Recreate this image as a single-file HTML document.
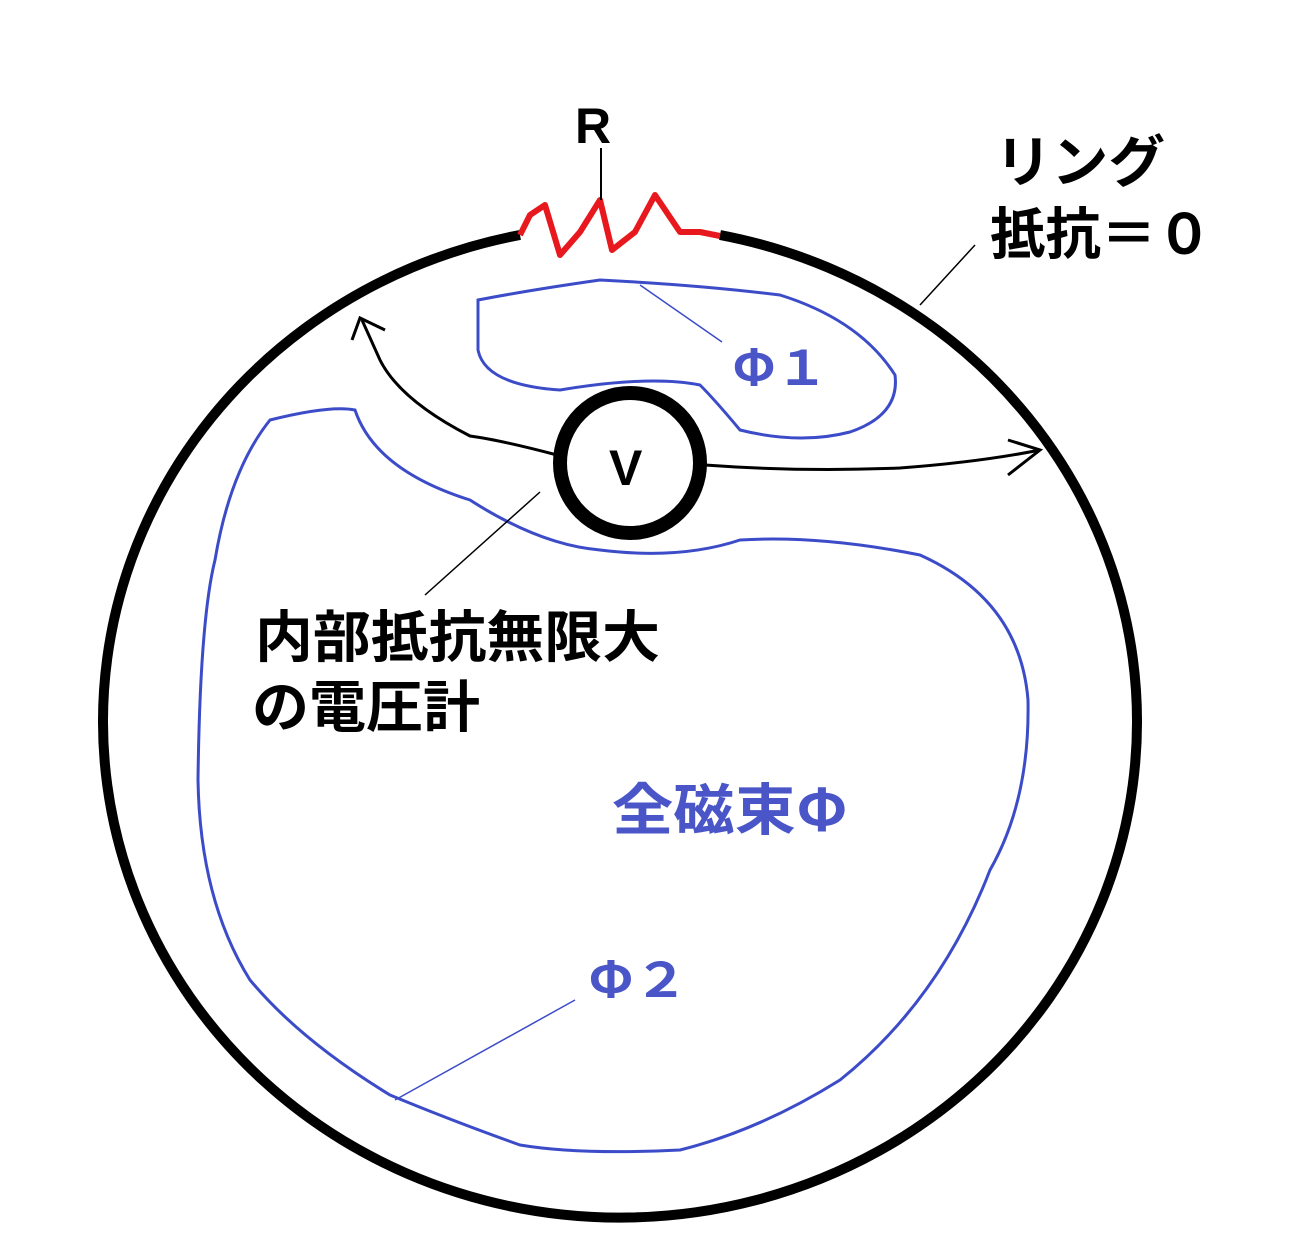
<!DOCTYPE html>
<html><head><meta charset="utf-8"><style>
html,body{margin:0;padding:0;background:#fff;}
svg{display:block;}
text{font-family:"Liberation Sans","Noto Sans CJK JP",sans-serif;font-weight:bold;}
.j{font-family:"Noto Sans CJK JP",sans-serif;}
</style></head><body>
<svg width="1300" height="1253" viewBox="0 0 1300 1253" xmlns="http://www.w3.org/2000/svg">
<rect width="1300" height="1253" fill="#fff"/>
<path d="M720,235 A517,496 0 1 1 520,235" fill="none" stroke="#000" stroke-width="10"/>
<path d="M520,235 L530,215 L545,205 L560,255 L580,232 L600,200 L612,250 L635,232 L655,195 L680,232 L700,232 L720,236" fill="none" stroke="#e8191e" stroke-width="6" stroke-linejoin="round"/>
<text x="575" y="143" font-size="50">R</text>
<line x1="601" y1="148" x2="601" y2="200" stroke="#000" stroke-width="2"/>
<text class="j" x="995" y="182" font-size="56" textLength="170" lengthAdjust="spacingAndGlyphs">リング</text>
<text class="j" x="990" y="254" font-size="56" textLength="222" lengthAdjust="spacingAndGlyphs">抵抗＝０</text>
<line x1="975" y1="245" x2="920" y2="305" stroke="#000" stroke-width="1.5"/>
<path d="M478,300 Q530,290 600,280 Q700,285 780,295 Q860,320 895,375 Q900,415 850,432 Q800,445 740,430 Q715,400 700,385 Q650,375 560,390 Q485,385 478,350 Z" fill="none" stroke="#3c4cc8" stroke-width="3"/>
<line x1="640" y1="285" x2="722" y2="342" stroke="#3c4cc8" stroke-width="1.5"/>
<text class="j" x="732" y="385" font-size="48" fill="#4a56c8" textLength="96" lengthAdjust="spacingAndGlyphs">Φ１</text>
<path d="M355,410 Q375,470 470,500 Q540,545 600,550 Q680,560 740,540 Q820,535 920,555 Q1020,600 1028,700 Q1030,800 990,870 Q940,1000 840,1080 Q760,1130 680,1150 Q580,1155 520,1145 Q450,1120 390,1095 Q300,1040 250,980 Q200,900 198,780 Q200,620 215,560 Q230,470 270,420 Q330,405 355,410 Z" fill="none" stroke="#3c4cc8" stroke-width="3"/>
<text class="j" x="612" y="830" font-size="56" fill="#4a56c8" textLength="236" lengthAdjust="spacingAndGlyphs">全磁束Φ</text>
<text class="j" x="588" y="997" font-size="48" fill="#4a56c8" textLength="100" lengthAdjust="spacingAndGlyphs">Φ２</text>
<line x1="575" y1="1000" x2="395" y2="1100" stroke="#3c4cc8" stroke-width="1.5"/>
<path d="M557,455 Q500,440 470,436 Q400,400 380,360 L362,320" fill="none" stroke="#000" stroke-width="3"/>
<path d="M352,340 L360,318 L385,330" fill="none" stroke="#000" stroke-width="3"/>
<path d="M705,465 Q800,472 900,468 Q980,462 1040,450" fill="none" stroke="#000" stroke-width="3"/>
<path d="M1008,440 L1040,450 L1008,475" fill="none" stroke="#000" stroke-width="3"/>
<circle cx="630" cy="463" r="70" fill="#fff" stroke="#000" stroke-width="14"/>
<text x="609" y="485" font-size="50">V</text>
<line x1="540" y1="492" x2="425" y2="595" stroke="#000" stroke-width="1.5"/>
<text class="j" x="255" y="657" font-size="56" textLength="405" lengthAdjust="spacingAndGlyphs">内部抵抗無限大</text>
<text class="j" x="252" y="727" font-size="56" textLength="228" lengthAdjust="spacingAndGlyphs">の電圧計</text>
</svg>
</body></html>
